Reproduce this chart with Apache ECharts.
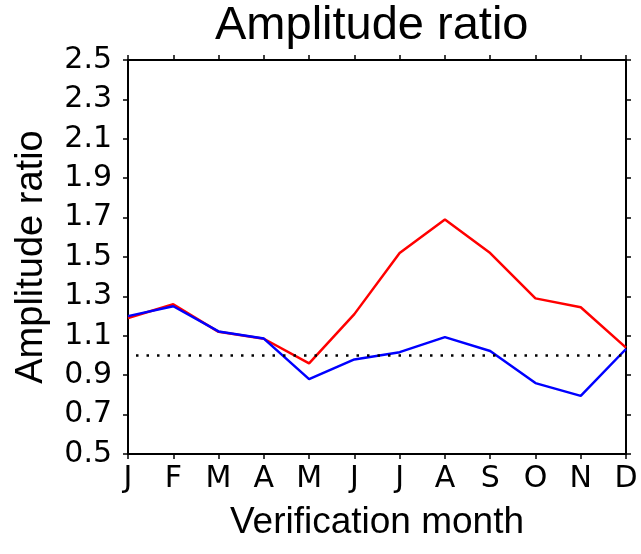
<!DOCTYPE html>
<html>
<head>
<meta charset="utf-8">
<script src="https://cdn.jsdelivr.net/npm/echarts@6/dist/echarts.min.js"></script>
<style>html,body{margin:0;padding:0;background:#fff}#c{width:641px;height:554px}</style>
</head>
<body>
<div id="c"></div>
<script>
const months = ['J','F','M','A','M','J','J','A','S','O','N','D'];
const redSeries  = [1.19, 1.26, 1.12, 1.085, 0.96, 1.21, 1.52, 1.69, 1.52, 1.29, 1.245, 1.04];
const blueSeries = [1.20, 1.25, 1.122, 1.086, 0.88, 0.98, 1.017, 1.093, 1.023, 0.86, 0.795, 1.033];
const yTicks = [0.5, 0.7, 0.9, 1.1, 1.3, 1.5, 1.7, 1.9, 2.1, 2.3, 2.5];
const refValue = 1.0;

const chart = echarts.init(document.getElementById('c'), null, {renderer:'canvas'});
const axLine = {show:true, lineStyle:{color:'#000', width:2}};
const tick = {show:true, inside:false, length:5, lineStyle:{color:'#000', width:1.5}};
chart.setOption({
  animation:false,
  backgroundColor:'#fff',
  title:{text:'Amplitude ratio', left:210, top:-2,
    textStyle:{fontFamily:'Liberation Sans', fontSize:47, fontWeight:'normal', color:'#000'}},
  grid:{left:128, right:15, top:60, bottom:100, containLabel:false},
  xAxis:[{
    type:'category', data:months, boundaryGap:false, position:'bottom',
    axisLine:axLine, axisTick:Object.assign({alignWithLabel:true}, tick),
    axisLabel:{fontFamily:'DejaVu Sans', fontSize:30, color:'#000', margin:10, interval:0},
    splitLine:{show:false},
    name:'Verification month', nameLocation:'middle', nameGap:50,
    nameTextStyle:{fontFamily:'Liberation Sans', fontSize:37, color:'#000'}
  },{
    type:'category', data:months, boundaryGap:false, position:'top',
    axisLine:axLine, axisTick:tick, axisLabel:{show:false}, splitLine:{show:false}
  }],
  yAxis:[{
    type:'value', min:0.5, max:2.5, position:'left',
    axisLine:axLine,
    axisTick:Object.assign({customValues:yTicks}, tick),
    axisLabel:{customValues:yTicks, fontFamily:'DejaVu Sans', fontSize:30, color:'#000', margin:16,
      formatter:v=>v.toFixed(1)},
    splitLine:{show:false},
    name:'Amplitude ratio', nameLocation:'middle', nameGap:77, nameRotate:90,
    nameTextStyle:{fontFamily:'Liberation Sans', fontSize:38, color:'#000'}
  },{
    type:'value', min:0.5, max:2.5, position:'right',
    axisLine:axLine,
    axisTick:Object.assign({customValues:yTicks}, tick),
    axisLabel:{show:false, customValues:yTicks}, splitLine:{show:false}
  }],
  series:[{
    type:'line', data:redSeries, symbol:'none', lineStyle:{color:'#ff0000', width:2.5}, z:3,
    markLine:{silent:true, symbol:'none', label:{show:false},
      lineStyle:{color:'#000', type:[2.5,8], width:2.5, dashOffset:-8},
      data:[{yAxis:refValue}]}
  },{
    type:'line', data:blueSeries, symbol:'none', lineStyle:{color:'#0000ff', width:2.5}, z:4
  }]
});
</script>
</body>
</html>
